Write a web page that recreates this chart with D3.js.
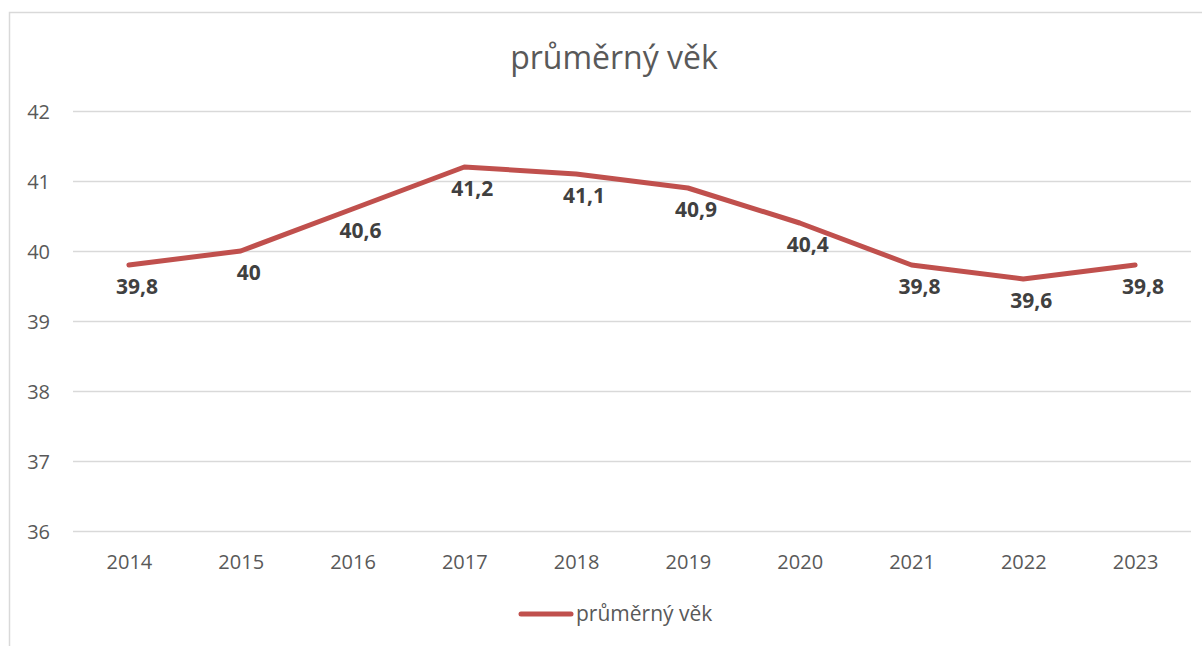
<!DOCTYPE html>
<html><head><meta charset="utf-8">
<script src="https://cdn.jsdelivr.net/npm/d3@7"></script>
<style>
html,body{margin:0;padding:0;background:#fff;}
svg{display:block;font-family:"Open Sans",sans-serif;}
</style></head>
<body>
<svg id="c" width="1202" height="646"></svg>
<script>
const years = ["2014","2015","2016","2017","2018","2019","2020","2021","2022","2023"];
const averageAge = [39.8, 40, 40.6, 41.2, 41.1, 40.9, 40.4, 39.8, 39.6, 39.8];
const yTicks = [36, 37, 38, 39, 40, 41, 42];
const seriesName = "průměrný věk";
const chartTitle = "průměrný věk";

const svg = d3.select("#c");
const W = 1202, H = 646;
const plot = {left: 73, right: 1191, top: 111, bottom: 531};

// chart border
svg.append("path")
  .attr("d", `M9.5,${H} V12.5 H${W}`)
  .attr("fill", "none").attr("stroke", "#d9d9d9").attr("stroke-width", 1.5);

const x = d3.scalePoint().domain(years).range([plot.left, plot.right]).padding(0.5);
const y = d3.scaleLinear().domain([36, 42]).range([plot.bottom, plot.top]);

// gridlines
svg.append("g").selectAll("line").data(yTicks).join("line")
  .attr("x1", plot.left).attr("x2", plot.right)
  .attr("y1", d => Math.round(y(d)) + 0.5).attr("y2", d => Math.round(y(d)) + 0.5)
  .attr("stroke", "#d9d9d9").attr("stroke-width", 1.5);

// y axis labels
const yAxis = d3.axisLeft(y).tickValues(yTicks).tickFormat(d3.format("d")).tickSize(0).tickPadding(0);
const gy = svg.append("g").attr("transform", `translate(50,0)`).call(yAxis);
gy.select(".domain").remove();
gy.selectAll("text").attr("font-family", "'Open Sans',sans-serif").attr("font-size", 20)
  .attr("fill", "#595959").attr("dy", "0.35em").attr("text-anchor", "end");

// x axis labels
const xAxis = d3.axisBottom(x).tickSize(0).tickPadding(0);
const gx = svg.append("g").attr("transform", `translate(0,${plot.bottom + 24})`).call(xAxis);
gx.select(".domain").remove();
gx.selectAll("text").attr("font-family", "'Open Sans',sans-serif").attr("font-size", 20)
  .attr("fill", "#595959").attr("dy", "0.7em");

// line
const line = d3.line().x((d, i) => x(years[i])).y(d => y(d));
svg.append("path").datum(averageAge)
  .attr("d", line).attr("fill", "none")
  .attr("stroke", "#c0504d").attr("stroke-width", 5)
  .attr("stroke-linejoin", "round").attr("stroke-linecap", "round");

// data labels
svg.append("g").selectAll("text").data(averageAge).join("text")
  .attr("x", (d, i) => x(years[i]) + 8)
  .attr("y", d => y(d) + 29)
  .attr("text-anchor", "middle")
  .attr("font-family", "'Open Sans',sans-serif").attr("font-size", 21).attr("font-weight", "bold")
  .attr("fill", "#404040")
  .text(d => String(d).replace(".", ","));

// title
svg.append("text").attr("x", 614).attr("y", 69).attr("text-anchor", "middle")
  .attr("font-family", "'Open Sans',sans-serif").attr("font-size", 32).attr("fill", "#595959")
  .text(chartTitle);

// legend
svg.append("line").attr("x1", 521).attr("x2", 571).attr("y1", 614).attr("y2", 614)
  .attr("stroke", "#c0504d").attr("stroke-width", 5).attr("stroke-linecap", "round");
svg.append("text").attr("x", 576).attr("y", 621)
  .attr("font-family", "'Open Sans',sans-serif").attr("font-size", 21).attr("fill", "#595959")
  .text(seriesName);
</script>
</body></html>
